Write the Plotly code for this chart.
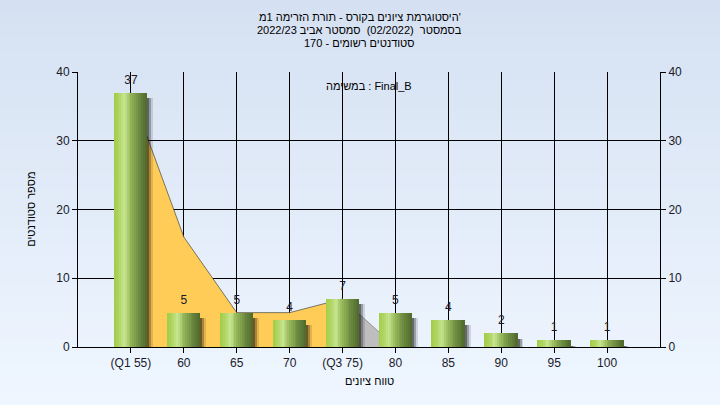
import plotly.graph_objects as go

# ---------------- data ----------------
categories = ["(Q1 55)", "60", "65", "70", "(Q3 75)", "80", "85", "90", "95", "100"]
counts = [37, 5, 5, 4, 7, 5, 4, 2, 1, 1]
trend_yellow = [37, 16, 5, 5, 7]          # filled trend up to (Q3 75)
trend_tail = [7, 0]                       # trend from (Q3 75) to 80
y_ticks = [0, 10, 20, 30, 40]

title_lines = [
    "היסטוגרמת ציונים בקורס - תורת הזרימה 1מ'",
    "בסמסטר  (02/2022)  סמסטר אביב 2022/23",
    "סטודנטים רשומים - 170",
]
task_label = "במשימה : Final_B"
x_title = "טווח ציונים"
y_title = "מספר סטודנטים"

FONT = "Liberation Sans, Arial, DejaVu Sans, sans-serif"
xs = list(range(len(categories)))
BW = 0.62  # bar width in category units

fig = go.Figure()

# yellow trend area (main subplot, drawn below bars)
fig.add_trace(go.Scatter(
    x=xs[:len(trend_yellow)], y=trend_yellow, mode="lines", fill="tozeroy",
    fillcolor="#FFCC58", line=dict(color="rgba(70,70,60,0.7)", width=1),
    hoverinfo="skip", showlegend=False))
fig.add_trace(go.Scatter(
    x=xs[4:6], y=trend_tail, mode="lines", fill="tozeroy",
    fillcolor="#BEBEBE", line=dict(color="rgba(140,140,140,0.9)", width=1),
    hoverinfo="skip", showlegend=False))

# shadows (on overlaying axis so they sit above the area)
for off, col in [(0.11, "rgba(0,0,0,0.12)"), (0.075, "rgba(0,0,0,0.25)"), (0.04, "rgba(0,0,0,0.35)")]:
    fig.add_trace(go.Bar(
        x=xs, y=[max(c - 0.8, 0) for c in counts], width=BW, offset=-BW / 2 + off,
        yaxis="y3", marker=dict(color=col, line=dict(width=0)),
        hoverinfo="skip", showlegend=False))

# gradient bars made of vertical strips
def lerp(a, b, t):
    return tuple(round(a[i] + (b[i] - a[i]) * t) for i in range(3))

stops = [(0.0, (160, 204, 72)), (0.18, (178, 215, 102)), (0.32, (200, 228, 145)),
         (0.5, (150, 185, 90)), (0.75, (110, 140, 65)), (1.0, (78, 104, 44))]

def grad(t):
    for (t0, c0), (t1, c1) in zip(stops[:-1], stops[1:]):
        if t <= t1:
            return lerp(c0, c1, (t - t0) / (t1 - t0))
    return stops[-1][1]

N = 18
sw = BW / N
for k in range(N):
    c = grad((k + 0.5) / N)
    fig.add_trace(go.Bar(
        x=xs, y=counts, width=sw * 1.06, offset=-BW / 2 + k * sw, yaxis="y3",
        marker=dict(color="rgb(%d,%d,%d)" % c, line=dict(width=0)),
        hoverinfo="skip", showlegend=False))

# value labels
fig.add_trace(go.Scatter(
    x=xs, y=counts, mode="markers+text", text=[str(c) for c in counts], yaxis="y3",
    marker=dict(size=8, opacity=0),
    textposition="top center", textfont=dict(family=FONT, size=12, color="#1a1a2a"),
    hoverinfo="skip", showlegend=False))

# invisible trace for right axis
fig.add_trace(go.Scatter(x=[xs[0]], y=[0], yaxis="y2", mode="markers",
                         marker=dict(opacity=0), hoverinfo="skip", showlegend=False))

# background gradient bands (figure area)
top = (213, 225, 242)
bot = (239, 246, 255)
nb = 30
y_top, y_bot = 1.27, -0.22
for i in range(nb):
    t = i / (nb - 1)
    c = lerp(top, bot, t)
    y0 = y_top - (y_top - y_bot) * i / nb
    y1 = y_top - (y_top - y_bot) * (i + 1) / nb
    fig.add_shape(type="rect", xref="paper", yref="paper", x0=-0.2, x1=1.2,
                  y0=y1 - 0.002, y1=y0 + 0.002, fillcolor="rgb(%d,%d,%d)" % c,
                  line=dict(width=0), layer="below")

ann = []
for txt, yy in zip(title_lines, [1.200, 1.153, 1.106]):
    ann.append(dict(text=txt, x=0.4845, y=yy, xref="paper", yref="paper",
                    showarrow=False, font=dict(family=FONT, size=11, color="#000"),
                    xanchor="center", yanchor="middle"))
ann.append(dict(text=task_label, x=0.5, y=0.949, xref="paper", yref="paper",
                showarrow=False, font=dict(family=FONT, size=11, color="#000"),
                xanchor="center", yanchor="middle"))
ann.append(dict(text=x_title, x=0.5, y=-0.124, xref="paper", yref="paper",
                showarrow=False, font=dict(family=FONT, size=11, color="#000"),
                xanchor="center", yanchor="middle"))
ann.append(dict(text=y_title, x=-0.082, y=0.5, xref="paper", yref="paper",
                showarrow=False, textangle=-90, font=dict(family=FONT, size=11, color="#000"),
                xanchor="center", yanchor="middle"))

axis_font = dict(family=FONT, size=12, color="#1a1a2a")
fig.update_layout(
    width=720, height=405,
    margin=dict(l=78, r=60, t=72, b=58, autoexpand=False),
    paper_bgcolor="#E4ECF8",
    plot_bgcolor="#B4B4B4",
    barmode="overlay",
    bargap=0,
    hovermode=False,
    font=dict(family=FONT, size=12, color="#000"),
    annotations=ann,
    xaxis=dict(range=[-1, 10], tickvals=xs, ticktext=categories, showgrid=True,
               gridcolor="#000", gridwidth=1, showline=True, linecolor="#000",
               linewidth=1, ticks="outside", ticklen=5, tickcolor="#000",
               tickfont=axis_font, zeroline=False, automargin=False),
    yaxis=dict(range=[0, 40], tickvals=y_ticks, showgrid=True, gridcolor="#000",
               gridwidth=1, showline=True, linecolor="#000", linewidth=1,
               ticks="outside", ticklen=5, tickcolor="#000", zeroline=False,
               tickfont=axis_font, automargin=False),
    yaxis2=dict(range=[0, 40], tickvals=y_ticks, overlaying="y", side="right",
                showgrid=False, showline=True, linecolor="#000", linewidth=1,
                ticks="outside", ticklen=5, tickcolor="#000", zeroline=False,
                tickfont=axis_font, automargin=False),
    yaxis3=dict(range=[0, 40], overlaying="y", visible=False, showgrid=False,
                zeroline=False, automargin=False),
)

fig.write_html("out.html", config={"displayModeBar": False},
               post_script="document.body.style.margin='0';")
